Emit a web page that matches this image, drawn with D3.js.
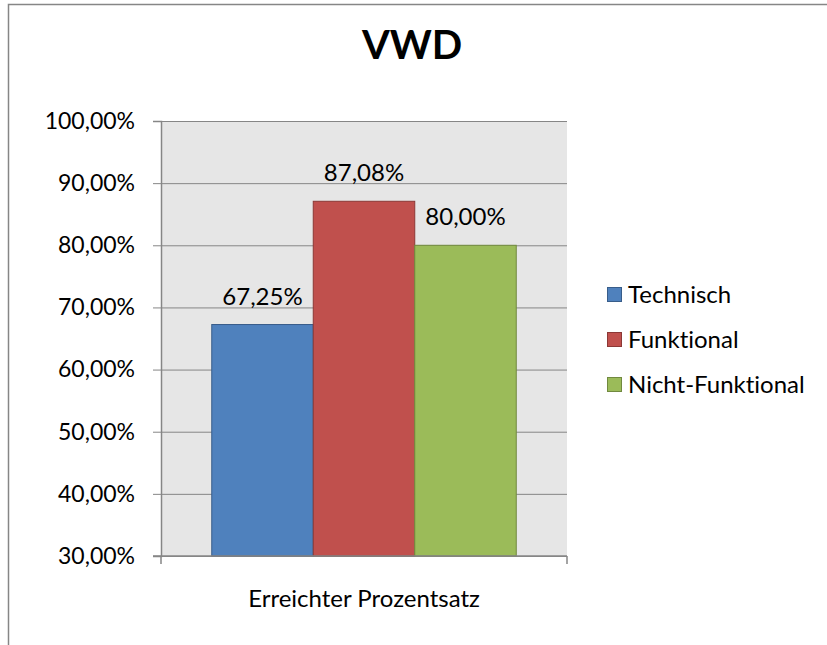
<!DOCTYPE html>
<html>
<head>
<meta charset="utf-8">
<script src="https://cdn.jsdelivr.net/npm/d3@7"></script>
<style>
  body { margin: 0; background: #fff; }
  text { font-family: Lato, "Open Sans", sans-serif; fill: #000; font-variant-ligatures: none; }
</style>
</head>
<body>
<div id="chart"></div>
<script>
// Chart data
const category = 'Erreichter Prozentsatz';
const series = ['Technisch', 'Funktional', 'Nicht-Funktional'];
const values = [67.25, 87.08, 80.00];
const colors = ['#4f81bd', '#c0504d', '#9bbb59'];
const strokes = ['#385d8a', '#8c3836', '#71893f'];
const yTicks = [30, 40, 50, 60, 70, 80, 90, 100];

const width = 827;
const height = 645;

const svg = d3.select('#chart').append('svg')
    .attr('width', width)
    .attr('height', height);

// Outer chart border (right and bottom edges run off the picture)
svg.append('rect')
    .attr('x', 8.5).attr('y', 4.5)
    .attr('width', 840).attr('height', 700)
    .attr('fill', '#fff')
    .attr('stroke', '#868686')
    .attr('stroke-width', 1.5);

// Title
svg.append('text')
    .attr('x', 412).attr('y', 59)
    .attr('text-anchor', 'middle')
    .style('font-size', '40px')
    .style('font-weight', 'bold')
    .text('VWD');

// Plot area
const plot = { left: 161, right: 567, top: 121, bottom: 556 };

const y = d3.scaleLinear()
    .domain([30, 100])
    .range([plot.bottom, plot.top]);

const x0 = d3.scaleBand()
    .domain([category])
    .range([plot.left, plot.right]);

// bars take 3/4 of the band, gap of one bar width split on both sides
const x1 = d3.scaleBand()
    .domain(series)
    .range([x0(category) + x0.bandwidth() / 8, x0(category) + x0.bandwidth() * 7 / 8]);

svg.append('rect')
    .attr('x', plot.left).attr('y', plot.top)
    .attr('width', plot.right - plot.left)
    .attr('height', plot.bottom - plot.top)
    .attr('fill', '#e6e6e6');

// Gridlines and y axis
const yAxis = d3.axisLeft(y)
    .tickValues(yTicks)
    .tickSize(8)
    .tickPadding(18)
    .tickFormat(d => d3.format('.2f')(d).replace('.', ',') + '%');

const gy = svg.append('g')
    .attr('transform', `translate(${plot.left},0)`)
    .call(yAxis);

gy.select('.domain').attr('stroke', '#868686').attr('stroke-width', 1.5);
gy.selectAll('.tick line').attr('stroke', '#868686');
gy.selectAll('.tick text')
    .style('font-size', '23px')
    .style('font-family', 'Lato, sans-serif')
    .attr('fill', '#000');

gy.selectAll('.tick')
    .append('line')
    .attr('x1', 0).attr('x2', plot.right - plot.left)
    .attr('stroke', '#868686')
    .attr('stroke-width', 1);

// Bottom axis line with end ticks
const xAxis = d3.axisBottom(x0).tickSize(0).tickFormat('');
const gx = svg.append('g')
    .attr('transform', `translate(0,${plot.bottom})`)
    .call(xAxis);
gx.select('.domain').remove();

// Bars
svg.selectAll('.bar')
    .data(series)
    .enter().append('rect')
    .attr('class', 'bar')
    .attr('x', d => x1(d))
    .attr('y', (d, i) => y(values[i]))
    .attr('width', x1.bandwidth())
    .attr('height', (d, i) => plot.bottom - y(values[i]))
    .attr('fill', (d, i) => colors[i])
    .attr('stroke', (d, i) => strokes[i])
    .attr('stroke-width', 1);

// Bottom axis drawn over bars
svg.append('line')
    .attr('x1', plot.left - 8).attr('x2', plot.right)
    .attr('y1', plot.bottom).attr('y2', plot.bottom)
    .attr('stroke', '#868686').attr('stroke-width', 1.5);
[plot.left, plot.right].forEach(px => {
    svg.append('line')
        .attr('x1', px).attr('x2', px)
        .attr('y1', plot.bottom).attr('y2', plot.bottom + 8)
        .attr('stroke', '#868686').attr('stroke-width', 1.5);
});

// Data labels
svg.selectAll('.label')
    .data(series)
    .enter().append('text')
    .attr('class', 'label')
    .attr('x', d => x1(d) + x1.bandwidth() / 2)
    .attr('y', (d, i) => y(values[i]) - 20)
    .attr('text-anchor', 'middle')
    .style('font-size', '24px')
    .text((d, i) => d3.format('.2f')(values[i]).replace('.', ',') + '%');

// Category label
svg.append('text')
    .attr('x', x0(category) + x0.bandwidth() / 2)
    .attr('y', 607)
    .attr('text-anchor', 'middle')
    .style('font-size', '24px')
    .text(category);

// Legend
const legend = svg.selectAll('.legend')
    .data(series)
    .enter().append('g')
    .attr('class', 'legend')
    .attr('transform', (d, i) => `translate(607,${295 + i * 45})`);

legend.append('rect')
    .attr('x', 0.5).attr('y', -7.5)
    .attr('width', 14).attr('height', 14)
    .attr('fill', (d, i) => colors[i])
    .attr('stroke', (d, i) => strokes[i]);

legend.append('text')
    .attr('x', 21).attr('y', 0)
    .attr('dy', '0.35em')
    .style('font-size', '24px')
    .text(d => d);
</script>
</body>
</html>
